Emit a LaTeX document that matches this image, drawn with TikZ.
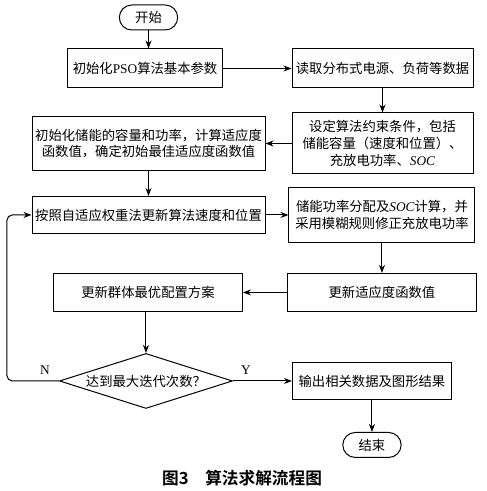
\documentclass[tikz,border=0pt]{standalone}
\usepackage{fontspec}
\setmainfont{Liberation Serif}
\newfontfamily\cjk{Noto Sans CJK SC}
\newfontfamily\cjkbold{Noto Sans CJK SC Bold}
\usepackage{tikz}
\usetikzlibrary{shapes, arrows.meta, positioning, calc}

\begin{document}
\begin{tikzpicture}[
        x=0.75pt, y=-0.75pt,
        font=\cjk\fontsize{10}{12.5}\selectfont,
        block/.style={rectangle, draw=black, line width=0.75pt, fill=white, align=center, inner sep=1pt},
        term/.style={rounded rectangle, draw=black, line width=0.75pt, minimum width=45.75pt, minimum height=18.75pt, inner sep=1pt},
        decision/.style={diamond, draw=black, line width=0.75pt, aspect=3.15, inner sep=0pt, minimum width=129.75pt, minimum height=41.25pt},
        line/.style={draw, line width=0.75pt, color=black, -{Stealth[length=6pt, width=4.5pt]}},
        label/.style={font=\rmfamily\fontsize{10}{12}\selectfont, text=black}
    ]
        \useasboundingbox (0,0) rectangle (486,491);

        % Layout: Start -> Init -> Read (Horizontal), then down the right column
        \node [term] (start) at (148.5,17.5) {开始};
        \node [block, below of=start, node distance=38.25pt, xshift=-2.6pt, minimum width=116.25pt, minimum height=29.25pt] (init) {初始化{\rmfamily PSO}算法基本参数};
        \node [block, right of=init, node distance=178.1pt, minimum width=135.75pt, minimum height=29.25pt] (read) {读取分布式电源、负荷等数据};
        \node [block, below of=read, node distance=56.25pt, minimum width=135.75pt, minimum height=45.75pt] (cons) {设定算法约束条件，包括\\储能容量（速度和位置）、\\充放电功率、{\rmfamily\itshape SOC}};
        \node [block, left of=cons, node distance=175.5pt, minimum width=174.75pt, minimum height=40.5pt] (store) {初始化储能的容量和功率，计算适应度\\函数值，确定初始最佳适应度函数值};

        % Iteration loop
        \node [block, below of=store, node distance=53.6pt, minimum width=174.75pt, minimum height=27.75pt] (upd) {按照自适应权重法更新算法速度和位置};
        \node [block, right of=upd, node distance=175.1pt, minimum width=139.5pt, minimum height=41.25pt] (soc) {储能功率分配及{\rmfamily\itshape SOC}计算，并\\采用模糊规则修正充放电功率};
        \node [block, below of=soc, node distance=58.1pt, minimum width=141.75pt, minimum height=28.5pt] (fit) {更新适应度函数值};
        \node [block, left of=fit, node distance=175.5pt, minimum width=141.75pt, minimum height=28.5pt] (best) {更新群体最优配置方案};
        \node [decision, below of=best, node distance=66.4pt, xshift=-1.5pt] (check) {达到最大迭代次数？};

        % Output and end
        \node [block, right of=check, node distance=169.5pt, minimum width=119.25pt, minimum height=27.75pt] (out) {输出相关数据及图形结果};
        \node [term, below of=out, node distance=48pt] (stop) {结束};

        % Caption
        \node [font=\cjkbold\fontsize{12.5}{14}\selectfont] (caption) at (242,478) {图3　算法求解流程图};

        % Connections
        \draw [line] (start.south) -- (start.south |- init.north);
        \draw [line] (init) -- (read);
        \draw [line] (read) -- (cons);
        \draw [line] (cons.west) -- (cons.west -| store.east);
        \draw [line] (store) -- (upd);
        \draw [line] (upd) -- (soc);
        \draw [line] (soc) -- (fit);
        \draw [line] (fit) -- (best);
        \draw [line] (best.south -| check.north) -- (check.north);
        \draw [line] (check.east) -- node[label, pos=0.22, above, yshift=1pt] {Y} (out.west);
        \draw [line] (out) -- (stop);

        % Check -> Update (feedback on N)
        \draw [line, rounded corners=4pt] (check.west) -- node[label, pos=0.27, above, yshift=1pt] {N} ++(-52,0) |- (upd.west);

    \end{tikzpicture}
\end{document}
